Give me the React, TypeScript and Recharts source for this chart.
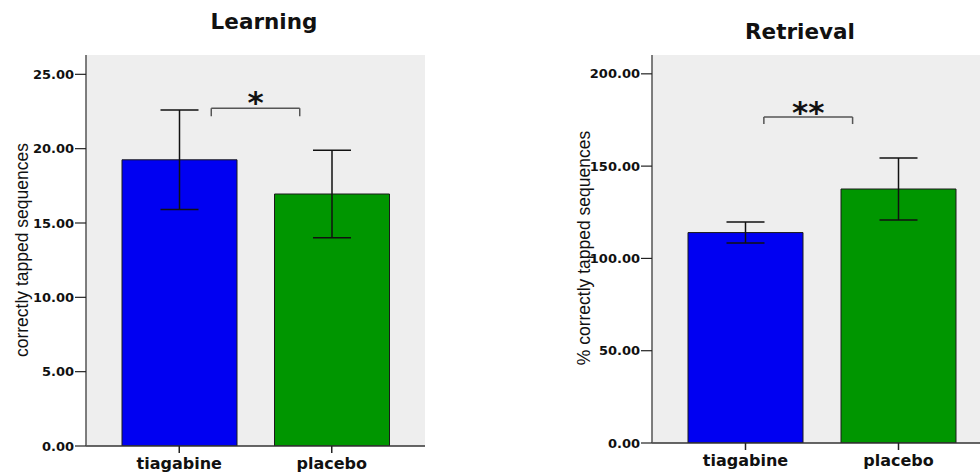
import React from "react";
import {
  BarChart,
  Bar,
  Cell,
  XAxis,
  YAxis,
  CartesianGrid,
  ErrorBar,
  ReferenceLine,
} from "recharts";

// groups
const categories = ["tiagabine", "placebo"];
const barColors = ["#0000f2", "#009600"];

// learning: mean and error (correctly tapped sequences)
const learningMeans = [19.25, 16.95];
const learningErrors = [3.35, 2.95];
const learningTicks = [0, 5, 10, 15, 20, 25];

// retrieval: mean and error (% correctly tapped sequences)
const retrievalMeans = [114, 137.6];
const retrievalErrors = [5.7, 16.8];
const retrievalTicks = [0, 50, 100, 150, 200];

// significance brackets (x in group index units, y in data units)
const learningBracket = { from: 0.21, to: 0.79, top: 22.72, bottom: 22.18, stars: "*" };
const retrievalBracket = { from: 0.12, to: 0.7, top: 176.6, bottom: 172.8, stars: "**" };

const SANS = "'DejaVu Sans', Verdana, sans-serif";
const ARIAL = "'Liberation Sans', Arial, sans-serif";

interface Bracket {
  from: number;
  to: number;
  top: number;
  bottom: number;
  stars: string;
}

interface PanelProps {
  means: number[];
  errors: number[];
  ticks: number[];
  yMax: number;
  bracket: Bracket;
  width: number;
  yAxisWidth: number;
  xAxisHeight: number;
  rightMargin: number;
  starOffset: number;
}

// group index -> position on a 0..1 axis spanning the category bands
const toFrac = (idx: number) => (idx + 0.5) / categories.length;

function Panel({
  means,
  errors,
  ticks,
  yMax,
  bracket,
  width,
  yAxisWidth,
  xAxisHeight,
  rightMargin,
  starOffset,
}: PanelProps) {
  const data = categories.map((name, i) => ({
    name,
    mean: means[i],
    err: errors[i],
  }));
  const pad = { left: 17, right: 17 };
  const border = { stroke: "#555", strokeWidth: 1.5 };
  const x0 = toFrac(bracket.from);
  const x1 = toFrac(bracket.to);

  return (
    <BarChart
      width={width}
      height={476}
      data={data}
      margin={{ top: 55, right: rightMargin, left: 0, bottom: 0 }}
    >
      <CartesianGrid fill="#eeeeee" horizontal={false} vertical={false} stroke="none" />
      <XAxis
        dataKey="name"
        padding={pad}
        height={xAxisHeight}
        axisLine={{ stroke: "#333", strokeWidth: 1.5 }}
        tickLine={{ stroke: "#222", strokeWidth: 1.5 }}
        tickSize={7}
        tickMargin={5}
        tick={{ fill: "#111", fontSize: 16, fontWeight: "bold", fontFamily: SANS }}
      />
      <XAxis
        xAxisId="top"
        orientation="top"
        dataKey="name"
        height={0}
        tick={false}
        tickLine={false}
        axisLine={border}
      />
      <XAxis
        xAxisId="num"
        type="number"
        domain={[0, 1]}
        allowDataOverflow
        padding={pad}
        hide
      />
      <YAxis
        width={yAxisWidth}
        domain={[0, yMax]}
        ticks={ticks}
        allowDataOverflow
        interval={0}
        axisLine={border}
        tickLine={{ stroke: "#222", strokeWidth: 1.2 }}
        tickSize={11}
        tickMargin={1}
        tickFormatter={(v: number) => v.toFixed(2)}
        tick={{ fill: "#111", fontSize: 13, fontWeight: "bold", fontFamily: SANS }}
      />
      <YAxis
        yAxisId="right"
        orientation="right"
        width={0}
        domain={[0, yMax]}
        tick={false}
        tickLine={false}
        axisLine={border}
      />
      <Bar dataKey="mean" barSize={115} stroke="#1a1a1a" strokeWidth={1} isAnimationActive={false}>
        {data.map((d, i) => (
          <Cell key={d.name} fill={barColors[i]} />
        ))}
        <ErrorBar dataKey="err" direction="y" width={19} stroke="#111" strokeWidth={1.5} />
      </Bar>
      <ReferenceLine
        xAxisId="num"
        stroke="#555"
        strokeWidth={1.5}
        segment={[
          { x: x0, y: bracket.bottom },
          { x: x0, y: bracket.top },
        ]}
      />
      <ReferenceLine
        xAxisId="num"
        stroke="#555"
        strokeWidth={1.5}
        segment={[
          { x: x1, y: bracket.bottom },
          { x: x1, y: bracket.top },
        ]}
      />
      <ReferenceLine
        xAxisId="num"
        stroke="#555"
        strokeWidth={1.5}
        segment={[
          { x: x0, y: bracket.top },
          { x: x1, y: bracket.top },
        ]}
        label={{
          value: bracket.stars,
          position: "top",
          offset: starOffset,
          fill: "#111",
          fontSize: 31,
          fontWeight: "bold",
          fontFamily: SANS,
        }}
      />
    </BarChart>
  );
}

const titleStyle: React.CSSProperties = {
  position: "absolute",
  width: 300,
  textAlign: "center",
  fontFamily: SANS,
  fontWeight: "bold",
  fontSize: 21.5,
  lineHeight: "22px",
  color: "#111",
};

const yLabelStyle: React.CSSProperties = {
  position: "absolute",
  width: 300,
  height: 20,
  lineHeight: "20px",
  textAlign: "center",
  fontFamily: ARIAL,
  fontSize: 17.5,
  color: "#111",
  transform: "rotate(-90deg)",
  transformOrigin: "150px 10px",
  whiteSpace: "nowrap",
};

export default function App() {
  return (
    <div
      style={{
        position: "absolute",
        left: 0,
        top: 0,
        width: 980,
        height: 476,
        overflow: "hidden",
        background: "#fff",
      }}
    >
      <div style={{ ...titleStyle, left: 264 - 150, top: 11 }}>Learning</div>
      <div style={{ ...titleStyle, left: 800 - 150, top: 21 }}>Retrieval</div>

      <div style={{ ...yLabelStyle, left: 22 - 150, top: 250 - 10 }}>correctly tapped sequences</div>
      <div style={{ ...yLabelStyle, left: 584 - 150, top: 248 - 10 }}>% correctly tapped sequences</div>

      <div style={{ position: "absolute", left: 0, top: 0 }}>
        <Panel
          means={learningMeans}
          errors={learningErrors}
          ticks={learningTicks}
          yMax={26.3}
          bracket={learningBracket}
          width={440}
          yAxisWidth={86}
          xAxisHeight={30}
          rightMargin={15}
          starOffset={-5}
        />
      </div>
      <div style={{ position: "absolute", left: 560, top: 0 }}>
        <Panel
          means={retrievalMeans}
          errors={retrievalErrors}
          ticks={retrievalTicks}
          yMax={210.2}
          bracket={retrievalBracket}
          width={445}
          yAxisWidth={92}
          xAxisHeight={33}
          rightMargin={13}
          starOffset={-6}
        />
      </div>
    </div>
  );
}
